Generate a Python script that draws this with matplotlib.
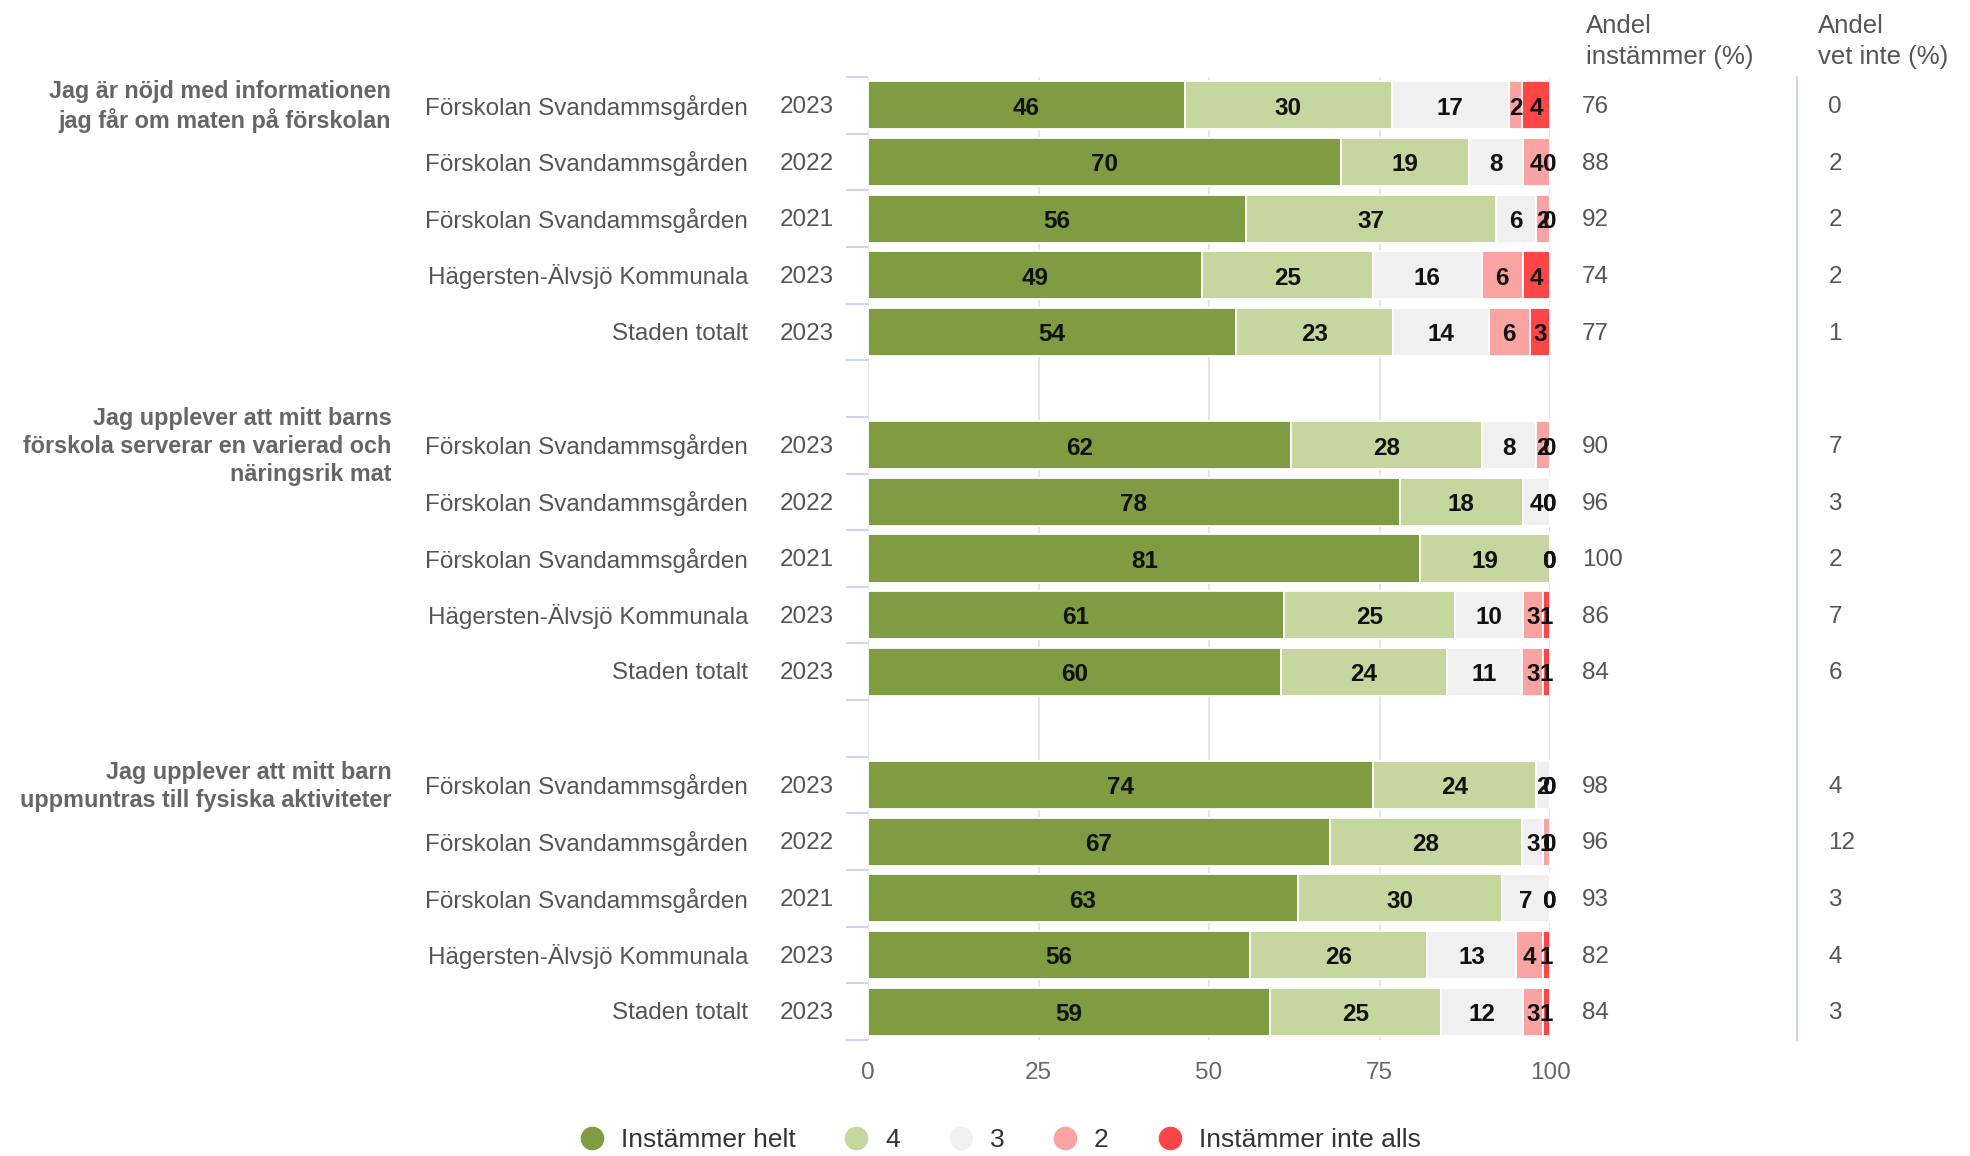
import numpy as np
import matplotlib
matplotlib.use("Agg")
import matplotlib.pyplot as plt
from matplotlib.lines import Line2D

plt.rcParams['font.family'] = ['Liberation Sans', 'DejaVu Sans']

questions = [
    "Jag är nöjd med informationen\njag får om maten på förskolan",
    "Jag upplever att mitt barns\nförskola serverar en varierad och\nnäringsrik mat",
    "Jag upplever att mitt barn\nuppmuntras till fysiska aktiviteter",
]
units = ["Förskolan Svandammsgården"] * 3 + ["Hägersten-Älvsjö Kommunala", "Staden totalt"]
years = ["2023", "2022", "2021", "2023", "2023"]
series_names = ["Instämmer helt", "4", "3", "2", "Instämmer inte alls"]
colors = ["#7f9c42", "#c5d79e", "#f0f0f0", "#f9a3a3", "#ff4646"]

# one row per unit/year: [helt, 4, 3, 2, inte alls]
q1 = [[46, 30, 17, 2, 4], [70, 19, 8, 4, 0], [56, 37, 6, 2, 0], [49, 25, 16, 6, 4], [54, 23, 14, 6, 3]]
q2 = [[62, 28, 8, 2, 0], [78, 18, 4, 0, 0], [81, 19, 0, 0, 0], [61, 25, 10, 3, 1], [60, 24, 11, 3, 1]]
q3 = [[74, 24, 2, 0, 0], [67, 28, 3, 1, 0], [63, 30, 7, 0, 0], [56, 26, 13, 4, 1], [59, 25, 12, 3, 1]]
andel_instammer = [[76, 88, 92, 74, 77], [90, 96, 100, 86, 84], [98, 96, 93, 82, 84]]
andel_vet_inte = [[0, 2, 2, 2, 1], [7, 3, 2, 7, 6], [4, 12, 3, 4, 3]]

groups = [q1, q2, q3]
gray = "#555555"
dy = 0.03  # nudge text down to sit visually centred on the bars

fig = plt.figure(figsize=(19.7, 11.56), dpi=100)
ax = fig.add_axes([868 / 1970, 116 / 1156, 682 / 1970, 963 / 1156])

ytr = ax.get_yaxis_transform()
for g, data in enumerate(groups):
    vals = np.array(data, dtype=float)
    norm = vals / vals.sum(axis=1, keepdims=True) * 100
    pos = np.arange(5) + g * 6
    left = np.zeros(5)
    for s in range(5):
        ax.barh(pos, norm[:, s], left=left, height=0.85, color=colors[s],
                edgecolor="white", linewidth=1.3, zorder=3)
        for i in range(5):
            ax.text(left[i] + norm[i, s] / 2, pos[i] + dy + 0.02, str(int(vals[i, s])),
                    ha="center", va="center", fontsize=17.5, fontweight="bold",
                    color="#111111", zorder=4)
        left += norm[:, s]
    for i in range(5):
        ax.text(-0.05, pos[i] + dy, years[i], transform=ytr, ha="right", va="center",
                fontsize=17.5, color=gray)
        ax.text(-0.176, pos[i] + dy, units[i], transform=ytr, ha="right", va="center",
                fontsize=17.5, color=gray)
        ax.text(1.047, pos[i] + dy, str(andel_instammer[g][i]), transform=ytr, ha="left",
                va="center", fontsize=17.5, color=gray)
        ax.text(1.408, pos[i] + dy, str(andel_vet_inte[g][i]), transform=ytr, ha="left",
                va="center", fontsize=17.5, color=gray)
    ax.text(-0.699, pos[0] + 0.02, questions[g], transform=ytr, ha="right", va="center",
            fontsize=16.8, fontweight="bold", color="#666666", linespacing=1.29)

# column headers
ax.text(1.053, -1.13, "Andel\ninstämmer (%)", transform=ytr, ha="left", va="center",
        fontsize=18.5, color=gray, linespacing=1.4)
ax.text(1.393, -1.13, "Andel\nvet inte (%)", transform=ytr, ha="left", va="center",
        fontsize=18.5, color=gray, linespacing=1.4)
ax.plot([1.362, 1.362], [-0.5, 16.5], transform=ytr, color="#ccd6eb", lw=1.5,
        clip_on=False)

ax.set_xlim(0, 100)
ax.set_ylim(16.5, -0.5)
ax.set_xticks([0, 25, 50, 75, 100])
ax.set_yticks(np.arange(-0.5, 17, 1))
ax.set_yticklabels([])
ax.tick_params(axis="y", length=16, width=1.5, color="#ccd6eb")
ax.tick_params(axis="x", length=0, pad=16, labelsize=17.5, labelcolor="#666666")
ax.grid(axis="x", color="#e6e6e6", lw=1.5, zorder=0)
for sp in ax.spines.values():
    sp.set_visible(False)

handles = [Line2D([], [], marker="o", ls="", markersize=16, markerfacecolor=c,
                  markeredgecolor=c) for c in colors]
fig.legend(handles, series_names, loc="center", bbox_to_anchor=(993 / 1970, 1 - 1140 / 1156),
           ncol=5, frameon=False, fontsize=19, labelcolor="#333333", handletextpad=0.1,
           columnspacing=1.3)

fig.savefig("out.png", dpi=100)
